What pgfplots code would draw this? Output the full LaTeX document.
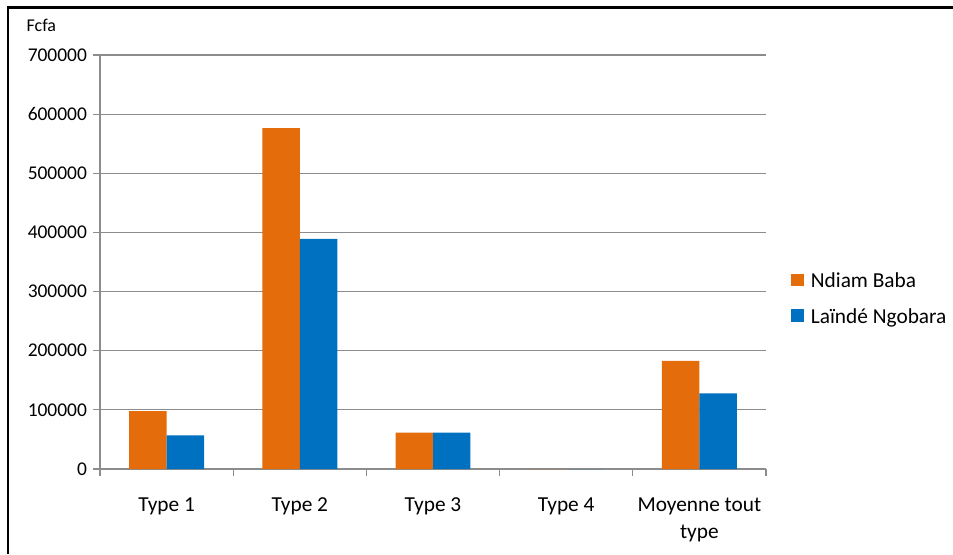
\documentclass[border=0pt]{standalone}
\usepackage{fontspec}
\setmainfont{Carlito}
\usepackage{pgfplots}
\pgfplotsset{compat=1.18}
\definecolor{xorange}{HTML}{E46C0A}
\definecolor{xblue}{HTML}{0070C0}
\definecolor{xgray}{HTML}{8C8C8C}
\begin{document}
\begin{tikzpicture}[x=0.75pt,y=0.75pt]
\useasboundingbox (0,0) rectangle (953,554);
\draw[line width=1.6pt,black] (8,0) -- (8,546.5) -- (953,546.5);
\node[anchor=west,font=\fontsize{13.5pt}{15pt}\selectfont] at (22,529) {Fcfa};
\begin{axis}[
  at={(75pt,63.75pt)}, anchor=south west,
  scale only axis, width=499.5pt, height=310.5pt,
  ybar=0pt, bar width=28.1pt,
  xmin=-0.5, xmax=4.5, ymin=0, ymax=700000,
  xtick={0,1,2,3,4},
  xticklabels={Type 1,Type 2,Type 3,Type 4,{Moyenne tout\\type}},
  minor xtick={-0.5,0.5,1.5,2.5,3.5,4.5},
  ytick={0,100000,...,700000},
  scaled y ticks=false,
  /pgf/number format/assume math mode=true,
  yticklabel={\pgfmathprintnumber[fixed,1000 sep={}]{\tick}},
  axis x line*=bottom, axis y line*=left,
  axis line style={xgray, line width=0.9pt},
  ymajorgrids, grid style={xgray, line width=0.9pt},
  tick align=outside,
  major tick length=5.25pt, minor tick length=5.25pt,
  major x tick style={draw=none},
  minor x tick style={xgray, line width=0.9pt},
  major y tick style={xgray, line width=0.9pt},
  yticklabel style={font=\fontsize{14.6pt}{17pt}\selectfont, xshift=-1pt},
  xticklabel style={font=\fontsize{16pt}{20pt}\selectfont, align=center, yshift=-12.75pt},
  legend style={draw=none, fill=none, at={(1.037,0.482)}, anchor=north west,
    font=\fontsize{16pt}{19pt}\selectfont, row sep=10.25pt, inner sep=0pt},
  legend cell align=left,
  legend image code/.code={\fill[#1] (0pt,-4.2pt) rectangle (9.6pt,5.4pt); \path (13pt,0pt);},
]
\addplot[fill=xorange, draw=none] coordinates {(0,98000) (1,576500) (2,61300) (3,0) (4,183000)};
\addplot[fill=xblue, draw=none] coordinates {(0,57000) (1,389000) (2,61300) (3,0) (4,128000)};
\legend{Ndiam Baba, Laïndé Ngobara}
\end{axis}
\end{tikzpicture}
\end{document}
